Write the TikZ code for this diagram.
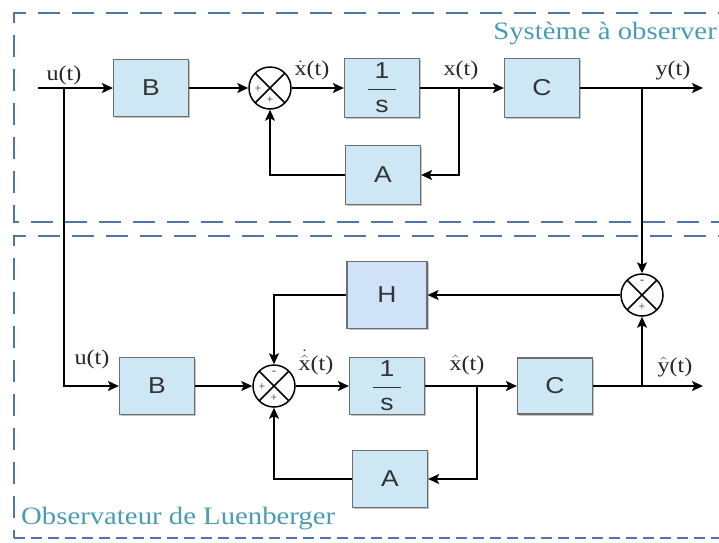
\documentclass[tikz,border=0pt]{standalone}
\usepackage{amsmath}
\usepackage{fontspec}
\setmainfont{Liberation Serif}
\setsansfont{Liberation Sans}
\usepackage{graphicx}
\usetikzlibrary{arrows.meta,shadows,calc}
\definecolor{boxfill}{HTML}{CDE8F4}
\definecolor{hfill}{HTML}{CFE2F8}
\definecolor{boxline}{HTML}{6E6E6E}
\definecolor{dashblue}{HTML}{4F76A8}
\definecolor{titleteal}{HTML}{4A9CB5}
\definecolor{inktext}{HTML}{333333}
\newcommand{\hs}[1]{\scalebox{1.15}[1]{#1}}
\newcommand{\onesur}{\hs{$\genfrac{}{}{1.4pt}{0}{\makebox[24pt]{\textsf{1}}}{\textsf{s}}$}}
\begin{document}
\begin{tikzpicture}[x=1pt,y=-1pt,
 blk/.style={draw=boxline, line width=1.2pt, fill=boxfill, minimum width=75pt, minimum height=57pt, inner sep=0pt,
   font=\sffamily\fontsize{23}{23}\selectfont, text=inktext,
   drop shadow={shadow xshift=1.5pt, shadow yshift=-1.5pt, fill=black!40, opacity=0.6}},
 sumn/.style={circle, draw=black, line width=1.5pt, fill=white, minimum size=42pt, inner sep=0pt,
   path picture={\draw[line width=1.5pt] (path picture bounding box.north west) -- (path picture bounding box.south east)
     (path picture bounding box.north east) -- (path picture bounding box.south west);}},
 sgn/.style={font=\fontsize{12}{12}\selectfont, inner sep=0pt, text=inktext},
 wire/.style={line width=1.5pt, draw=black},
 arr/.style={wire, -{Stealth[length=11pt,width=10pt,inset=2.5pt]}},
 lbl/.style={font=\fontsize{21}{21}\selectfont, inner sep=0pt, anchor=base, text=black!85},
 frame/.style={draw=dashblue, line width=2pt, dash pattern=on 22pt off 12pt},
 ttl/.style={font=\fontsize{25}{25}\selectfont, text=titleteal, inner sep=0pt}
]
\clip (0,0) rectangle (719,542);
\useasboundingbox (0,0) rectangle (719,542);

% frames
\draw[frame] (740,13) -- (14,13) -- (14,222) -- (740,222);
\draw[frame] (740,236) -- (14,236) -- (14,538);
\draw[frame, dash pattern=on 11pt off 6pt] (14,538) -- (740,538);
\node[ttl, anchor=east] (t1) at (717,34) {\hs{Système à observer}};
\node[ttl, anchor=west] (t2) at (21,519) {\hs{Observateur de Luenberger}};

% top system
\node[blk] (B1) at (151,88) {\hs{B}};
\node[sumn] (S1) at (270,88) {};
\node[blk, minimum height=59pt] (I1) at (382,88) {\onesur};
\node[blk, minimum height=59pt] (A1) at (383,175) {\hs{A}};
\node[blk, minimum height=59pt] (C1) at (542,88) {\hs{C}};
\coordinate (u0) at (38,88);
\coordinate (ub) at (64,88);
\coordinate (xb1) at (459,88);
\coordinate (yb1) at (642,88);
\coordinate (y1) at (703,88);

% observer
\node[sumn] (S3) at (642,295) {};
\node[blk, fill=hfill, minimum width=80pt, minimum height=67pt] (H) at (387,295) {\hs{H}};
\node[blk] (B2) at (157,386) {\hs{B}};
\node[sumn] (S2) at (274,386) {};
\node[blk] (I2) at (387,386) {\onesur};
\node[blk] (A2) at (390,479) {\hs{A}};
\node[blk, minimum height=56pt] (C2) at (555,386) {\hs{C}};
\coordinate (xb2) at (477,386);
\coordinate (yb2) at (642,386);
\coordinate (y2) at (703,386);

% signs
\node[sgn] (s1l) at ($(S1)+(-12,1)$) {+};
\node[sgn] (s1b) at ($(S1)+(0,12)$) {+};
\node[sgn] (s2l) at ($(S2)+(-12,1)$) {+};
\node[sgn] (s2b) at ($(S2)+(0,12)$) {+};
\node[sgn] (s2t) at ($(S2)+(0,-13)$) {-};
\node[sgn] (s3b) at ($(S3)+(0,12)$) {+};
\node[sgn] (s3t) at ($(S3)+(0,-13)$) {-};

% wires top
\draw[arr] (u0) -- (B1);
\draw[arr] (ub) |- (B2);
\draw[arr] (B1) -- (S1);
\draw[arr] (S1) -- (I1);
\draw[arr] (I1) -- (C1);
\draw[arr] (xb1) |- (A1);
\draw[arr] (A1) -| (S1);
\draw[arr] (C1) -- (y1);
\draw[arr] (yb1) -- (S3);

% wires observer
\draw[arr] (S3) -- (H);
\draw[arr] (H) -| (S2);
\draw[arr] (B2) -- (S2);
\draw[arr] (S2) -- (I2);
\draw[arr] (I2) -- (C2);
\draw[arr] (xb2) |- (A2);
\draw[arr] (A2) -| (S2);
\draw[arr] (C2) -- (y2);
\draw[arr] (yb2) -- (S3);

% labels
\node[lbl] (lu1) at (64,80) {\hs{u(t)}};
\node[lbl] (lxd) at (312,75) {\hs{$\dot{\mathrm{x}}$(t)}};
\node[lbl] (lx) at (461,75) {\hs{x(t)}};
\node[lbl] (ly) at (673,75) {\hs{y(t)}};
\node[lbl] (lu2) at (92,364) {\hs{u(t)}};
\node[lbl] (lxhd) at (316,370) {\hs{$\dot{\hat{\mathrm{x}}}$(t)}};
\node[lbl] (lxh) at (467,370) {\hs{$\hat{\mathrm{x}}$(t)}};
\node[lbl] (lyh) at (675,372) {\hs{$\hat{\mathrm{y}}$(t)}};
\end{tikzpicture}
\end{document}
